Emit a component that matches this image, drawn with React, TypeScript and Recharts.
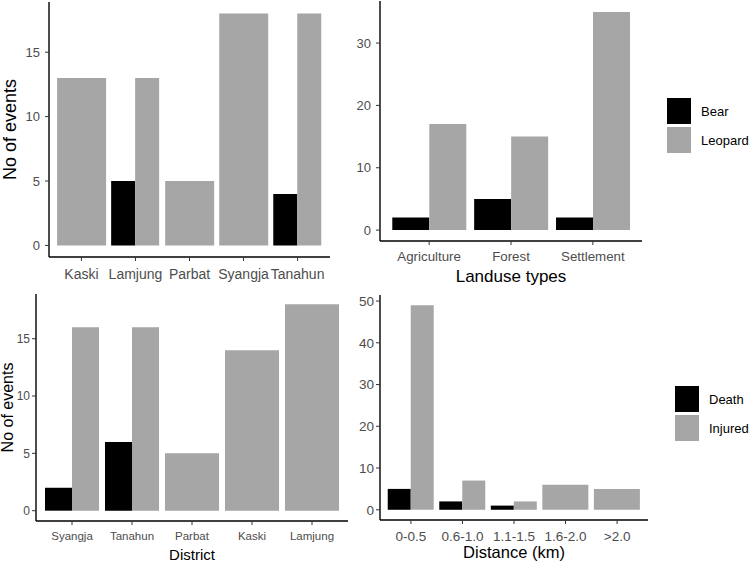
import React from 'react';
import { BarChart, Bar, XAxis, YAxis, Legend, Cell } from 'recharts';

const BLACK = '#000000';
const GREY = '#a6a6a6';
const TICK_GREY = '#4d4d4d';

// top-left: events per district, Bear vs Leopard
const districtsTop = ['Kaski', 'Lamjung', 'Parbat', 'Syangja', 'Tanahun'];
const bearByDistrict = [null, 5, null, null, 4];
const leopardByDistrict = [13, 13, 5, 18, 18];

// top-right: events per landuse type
const landuseTypes = ['Agriculture', 'Forest', 'Settlement'];
const bearByLanduse = [2, 5, 2];
const leopardByLanduse = [17, 15, 35];

// bottom-left: casualties per district
const districtsBottom = ['Syangja', 'Tanahun', 'Parbat', 'Kaski', 'Lamjung'];
const deathByDistrict = [2, 6, null, null, null];
const injuredByDistrict = [16, 16, 5, 14, 18];

// bottom-right: casualties by distance
const distanceBins = ['0-0.5', '0.6-1.0', '1.1-1.5', '1.6-2.0', '>2.0'];
const deathByDistance = [5, 2, 1, null, null];
const injuredByDistance = [49, 7, 2, 6, 5];

type Val = number | null;

// ggplot dodge: a category with only one group gets a full-width bar
function buildRows(cats: string[], a: Val[], b: Val[]) {
  return cats.map((cat, i) => {
    const paired = a[i] != null && b[i] != null;
    return {
      cat,
      a: paired ? a[i] : null,
      b: paired ? b[i] : null,
      single: paired ? null : (a[i] ?? b[i]),
      singleIsA: !paired && a[i] != null,
    };
  });
}

const LegendKeys = (props: any) => {
  const { payload = [] } = props;
  const items = payload.filter((e: any) => e.type !== 'none' && e.dataKey !== 'single');
  return (
    <div style={{ fontSize: 13, color: '#000' }}>
      {items.map((entry: any) => (
        <div key={entry.value} style={{ display: 'flex', alignItems: 'center', height: 26, marginBottom: 3 }}>
          <div style={{ width: 24, height: 26, background: entry.color, marginRight: 10 }} />
          <span>{entry.value}</span>
        </div>
      ))}
    </div>
  );
};

type PanelProps = {
  rows: ReturnType<typeof buildRows>;
  names: [string, string];
  left: number;
  top: number;
  width: number;
  height: number;
  margin: { top: number; right: number; left: number; bottom: number };
  yWidth: number;
  xHeight: number;
  yDomain: [number, number];
  yTicks: number[];
  xPad: number;
  xFont: number;
  yFont: number;
  xTickMargin: number;
  yTickMargin: number;
  xLabel?: string;
  xLabelSize?: number;
  xLabelOffset?: number;
  yLabel?: string;
  yLabelSize?: number;
  yLabelOffset?: number;
  legendPos?: { left: number; top: number };
};

const axisLine = { stroke: BLACK, strokeWidth: 1.4 };

const Panel: React.FC<PanelProps> = (p) => (
  <div style={{ position: 'absolute', left: p.left, top: p.top }}>
    <BarChart width={p.width} height={p.height} data={p.rows} margin={p.margin} barGap={0} barCategoryGap="5%">
      <XAxis
        xAxisId="pair"
        dataKey="cat"
        interval={0}
        padding={{ left: p.xPad, right: p.xPad }}
        height={p.xHeight}
        axisLine={axisLine}
        tickSize={4}
        tickMargin={p.xTickMargin}
        tickLine={{ stroke: '#333333' }}
        tick={{ fill: TICK_GREY, fontSize: p.xFont }}
        label={
          p.xLabel
            ? { value: p.xLabel, position: 'insideBottom', offset: p.xLabelOffset, fill: BLACK, fontSize: p.xLabelSize }
            : undefined
        }
      />
      {/* second band axis so single-group categories get a full-width bar */}
      <XAxis xAxisId="full" dataKey="cat" hide orientation="top" height={0} padding={{ left: p.xPad, right: p.xPad }} />
      <YAxis
        width={p.yWidth}
        domain={p.yDomain}
        ticks={p.yTicks}
        interval={0}
        allowDataOverflow
        axisLine={axisLine}
        tickSize={4}
        tickMargin={p.yTickMargin}
        tickLine={{ stroke: '#333333' }}
        tick={{ fill: TICK_GREY, fontSize: p.yFont }}
        label={
          p.yLabel
            ? {
                value: p.yLabel,
                angle: -90,
                position: 'insideLeft',
                offset: p.yLabelOffset,
                fill: BLACK,
                fontSize: p.yLabelSize,
                style: { textAnchor: 'middle' },
              }
            : undefined
        }
      />
      <Bar xAxisId="pair" dataKey="a" name={p.names[0]} fill={BLACK} isAnimationActive={false} />
      <Bar xAxisId="pair" dataKey="b" name={p.names[1]} fill={GREY} isAnimationActive={false} />
      <Bar xAxisId="full" dataKey="single" legendType="none" isAnimationActive={false}>
        {p.rows.map((r) => (
          <Cell key={r.cat} fill={r.singleIsA ? BLACK : GREY} />
        ))}
      </Bar>
      {p.legendPos && (
        <Legend
          layout="vertical"
          align="center"
          verticalAlign="middle"
          content={<LegendKeys />}
          wrapperStyle={{ left: p.legendPos.left, top: p.legendPos.top, width: 90 }}
        />
      )}
    </BarChart>
  </div>
);

export default function App() {
  return (
    <div
      style={{
        position: 'absolute',
        left: 0,
        top: 0,
        width: 750,
        height: 563,
        background: '#fff',
        fontFamily: '"Liberation Sans", Arial, sans-serif',
      }}
    >
      <Panel
        rows={buildRows(districtsTop, bearByDistrict, leopardByDistrict)}
        names={['Bear', 'Leopard']}
        left={0}
        top={0}
        width={340}
        height={290}
        margin={{ top: 2, right: 10, left: 0, bottom: 0 }}
        yWidth={49}
        xHeight={33}
        yDomain={[-0.9, 18.9]}
        yTicks={[0, 5, 10, 15]}
        xPad={5.4}
        xFont={14}
        yFont={13}
        xTickMargin={8}
        yTickMargin={5}
        yLabel="No of events"
        yLabelSize={18}
        yLabelOffset={10}
      />
      <Panel
        rows={buildRows(landuseTypes, bearByLanduse, leopardByLanduse)}
        names={['Bear', 'Leopard']}
        left={330}
        top={0}
        width={420}
        height={290}
        margin={{ top: 1, right: 108, left: 0, bottom: 0 }}
        yWidth={50}
        xHeight={49}
        yDomain={[-1.75, 36.75]}
        yTicks={[0, 10, 20, 30]}
        xPad={8.2}
        xFont={13.3}
        yFont={13}
        xTickMargin={7}
        yTickMargin={5}
        xLabel="Landuse types"
        xLabelSize={17}
        xLabelOffset={8}
        legendPos={{ left: 337, top: 98 }}
      />
      <Panel
        rows={buildRows(districtsBottom, deathByDistrict, injuredByDistrict)}
        names={['Death', 'Injured']}
        left={0}
        top={280}
        width={350}
        height={283}
        margin={{ top: 14, right: 2, left: 0, bottom: 0 }}
        yWidth={36}
        xHeight={42}
        yDomain={[-0.9, 18.9]}
        yTicks={[0, 5, 10, 15]}
        xPad={6}
        xFont={11.5}
        yFont={12}
        xTickMargin={7}
        yTickMargin={2}
        xLabel="District"
        xLabelSize={15}
        xLabelOffset={3}
        yLabel="No of events"
        yLabelSize={16}
        yLabelOffset={7.5}
      />
      <Panel
        rows={buildRows(distanceBins, deathByDistance, injuredByDistance)}
        names={['Death', 'Injured']}
        left={330}
        top={280}
        width={420}
        height={283}
        margin={{ top: 15, right: 102, left: 0, bottom: 0 }}
        yWidth={50}
        xHeight={43}
        yDomain={[-2.45, 51.45]}
        yTicks={[0, 10, 20, 30, 40, 50]}
        xPad={5.15}
        xFont={13.5}
        yFont={13.5}
        xTickMargin={7}
        yTickMargin={2}
        xLabel="Distance (km)"
        xLabelSize={16.5}
        xLabelOffset={5}
        legendPos={{ left: 345, top: 106 }}
      />
    </div>
  );
}
